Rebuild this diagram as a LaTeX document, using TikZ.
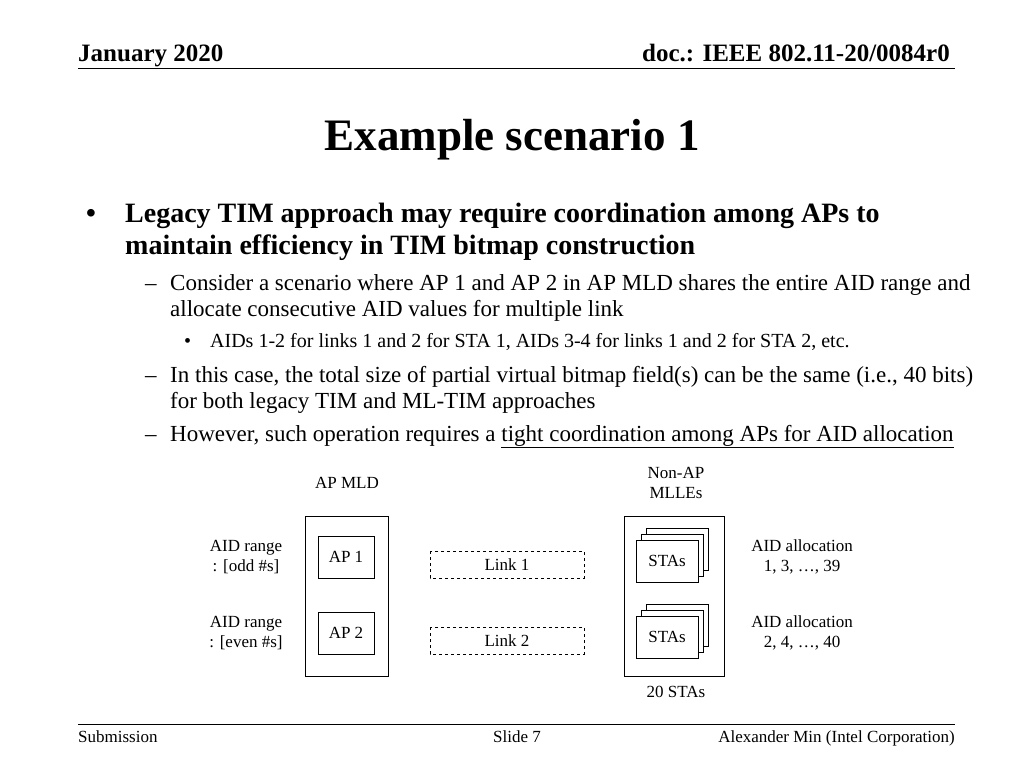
\documentclass[tikz,border=0pt]{standalone}
\usepackage{fontspec}
\setmainfont{Liberation Serif}
\usepackage{tikz}

\begin{document}
\begin{tikzpicture}[x=1pt, y=-1pt, every node/.style={inner sep=0pt}, box/.style={draw=black, fill=white, line width=0.8pt}, dashbox/.style={draw=black, dashed, line width=0.8pt}, small/.style={font=\fontsize{17}{20}\selectfont, align=center}]

\useasboundingbox (0,0) rectangle (1024,768);

% header
\node[anchor=base west, font=\fontsize{25}{28}\selectfont\bfseries] (date) at (78, 62) {January 2020};
\node[anchor=base east, font=\fontsize{25}{28}\selectfont\bfseries] (doc) at (950, 62) {doc.: IEEE 802.11-20/0084r0};
\draw[line width=0.8pt] (78, 68) -- (955, 68);

% title
\node[font=\fontsize{45}{48}\selectfont\bfseries] (title) at (512, 140) {Example scenario 1};

% bullets
\node[anchor=base west, font=\fontsize{28}{32}\selectfont\bfseries] (b1dot) at (86, 222) {•};
\node[anchor=base west, font=\fontsize{28}{32}\selectfont\bfseries] (b1a) at (125, 222) {Legacy TIM approach may require coordination among APs to};
\node[anchor=base west, font=\fontsize{28}{32}\selectfont\bfseries] (b1b) at (125, 254) {maintain efficiency in TIM bitmap construction};
\node[anchor=base west, font=\fontsize{23}{26}\selectfont] (d1) at (145, 290) {–};
\node[anchor=base west, font=\fontsize{23}{26}\selectfont] (d1a) at (170, 290) {Consider a scenario where AP 1 and AP 2 in AP MLD shares the entire AID range and};
\node[anchor=base west, font=\fontsize{23}{26}\selectfont] (d1b) at (170, 316) {allocate consecutive AID values for multiple link};
\node[anchor=base west, font=\fontsize{20}{23}\selectfont] (s1) at (184, 347) {•};
\node[anchor=base west, font=\fontsize{20}{23}\selectfont] (s1a) at (210, 347) {AIDs 1-2 for links 1 and 2 for STA 1, AIDs 3-4 for links 1 and 2 for STA 2, etc.};
\node[anchor=base west, font=\fontsize{23}{26}\selectfont] (d2) at (145, 382) {–};
\node[anchor=base west, font=\fontsize{23}{26}\selectfont] (d2a) at (170, 382) {In this case, the total size of partial virtual bitmap field(s) can be the same (i.e., 40 bits)};
\node[anchor=base west, font=\fontsize{23}{26}\selectfont] (d2b) at (170, 408) {for both legacy TIM and ML-TIM approaches};
\node[anchor=base west, font=\fontsize{23}{26}\selectfont] (d3) at (145, 441) {–};
\node[anchor=base west, font=\fontsize{23}{26}\selectfont] (d3a) at (170, 441) {However, such operation requires a \underline{tight coordination among APs for AID allocation}};

% AP MLD side
\node[small] (apmld) at (347, 483) {AP MLD};
\draw[box] (305, 516) rectangle (388, 676);
\draw[box] (318, 536) rectangle (374, 578);
\node[small] (ap1) at (346, 557) {AP 1};
\draw[box] (318, 612) rectangle (374, 654);
\node[small] (ap2) at (346, 633) {AP 2};
\node[small] (range1) at (246, 557) {AID range\\: [odd \#s]};
\node[small] (range2) at (246, 633) {AID range\\: [even \#s]};

% links
\draw[dashbox] (430, 551) rectangle (584, 578);
\node[small] (link1) at (507, 565) {Link 1};
\draw[dashbox] (430, 627) rectangle (584, 654);
\node[small] (link2) at (507, 641) {Link 2};

% non-AP side
\node[small] (nonap) at (676, 483) {Non-AP\\MLLEs};
\draw[box] (624, 516) rectangle (724, 676);
\foreach \dx/\dy in {10/-12, 5/-6, 0/0} {
  \draw[box] (636+\dx, 540+\dy) rectangle (698+\dx, 582+\dy);
  \draw[box] (636+\dx, 616+\dy) rectangle (698+\dx, 658+\dy);
}
\node[small] (stas1) at (667, 561) {STAs};
\node[small] (stas2) at (667, 637) {STAs};
\node[small] (alloc1) at (802, 557) {AID allocation\\1, 3, …, 39};
\node[small] (alloc2) at (802, 633) {AID allocation\\2, 4, …, 40};
\node[small] (twenty) at (676, 692) {20 STAs};

% footer
\draw[line width=0.8pt] (78, 724) -- (955, 724);
\node[anchor=base west, font=\fontsize{17}{20}\selectfont] (sub) at (78, 742) {Submission};
\node[anchor=base, font=\fontsize{17}{20}\selectfont] (slide) at (517, 742) {Slide 7};
\node[anchor=base east, font=\fontsize{17}{20}\selectfont] (auth) at (955, 742) {Alexander Min (Intel Corporation)};

\end{tikzpicture}
\end{document}
